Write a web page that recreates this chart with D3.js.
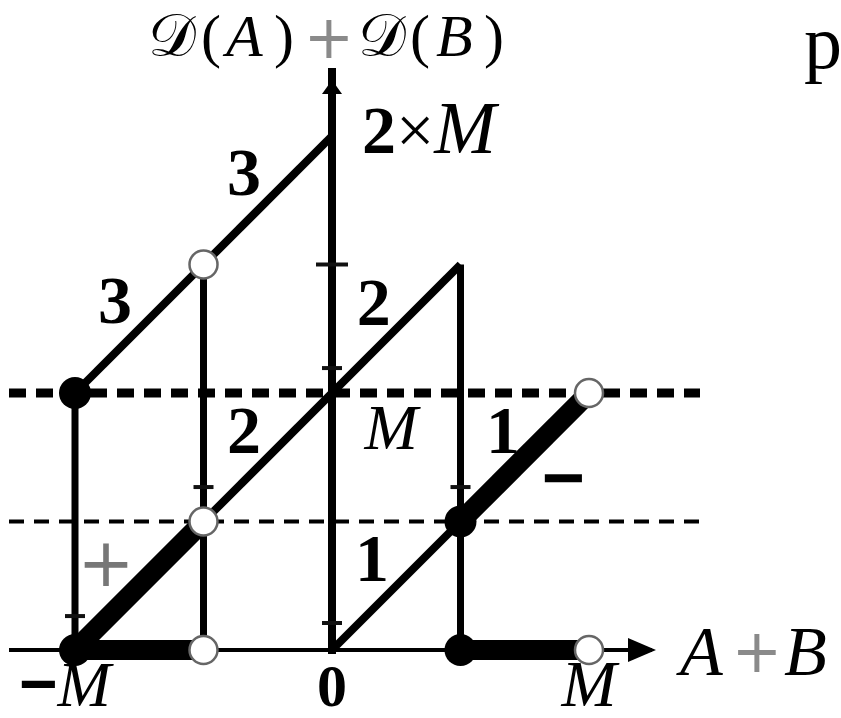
<!DOCTYPE html>
<html>
<head>
<meta charset="utf-8">
<script src="https://cdn.jsdelivr.net/npm/d3@7/dist/d3.min.js"></script>
<style>
  html, body { margin: 0; padding: 0; background: #fff; }
  svg { display: block; }
</style>
</head>
<body>
<svg id="chart" width="841" height="718"></svg>
<script>
// Values are expressed in units of M (x = A+B, y = D(A)+D(B)).
const xDomain = [-1, 1];
const yDomain = [0, 2];

// Vertical jumps of the piecewise sum
const verticals = [
  { x: -1,   y0: 0, y1: 1 },
  { x: -0.5, y0: 0, y1: 1.5 },
  { x: 0.5,  y0: 0, y1: 1.5 }
];

// Slope-one branches, thin
const thinBranches = [
  { x0: -1,   y0: 1,   x1: 0,   y1: 2 },
  { x0: -0.5, y0: 0.5, x1: 0.5, y1: 1.5 },
  { x0: 0,    y0: 0,   x1: 0.5, y1: 0.5 }
];

// Emphasised pieces (overflow regions)
const boldPieces = [
  { x0: -1,   y0: 0,   x1: -0.5, y1: 0.5 },
  { x0: 0.5,  y0: 0.5, x1: 1,    y1: 1 },
  { x0: -1,   y0: 0,   x1: -0.5, y1: 0 },
  { x0: 0.5,  y0: 0,   x1: 1,    y1: 0 }
];

// Reference levels
const levels = [
  { y: 1,   kind: "major" },
  { y: 0.5, kind: "minor" }
];

// Endpoints: closed (included) and open (excluded)
const closedPoints = [[-1, 1], [-1, 0], [0.5, 0], [0.5, 0.5]];
const openPoints   = [[-0.5, 1.5], [-0.5, 0.5], [-0.5, 0], [1, 1], [1, 0]];

// Small marks on the grid verticals
const smallMarks = [
  { x: -1,   y: 0.132, w: "s" },
  { x: -0.5, y: 0.634, w: "s" },
  { x: 0.5,  y: 0.634, w: "s" },
  { x: 0,    y: 0.105, w: "s" },
  { x: 0,    y: 1.097, w: "s" },
  { x: 0,    y: 1.5,   w: "l" }
];

// Branch labels
const branchLabels = [
  { x: -0.342, y: 1.86,  t: "3" },
  { x: -0.844, y: 1.362, t: "3" },
  { x: 0.162,  y: 1.354, t: "2" },
  { x: -0.342, y: 0.856, t: "2" },
  { x: 0.665,  y: 0.856, t: "1" },
  { x: 0.156,  y: 0.358, t: "1" }
];

const xTickValues = [-1, 0, 1];
const xTickLabels = ["\u2212M", "0", "M"];

const svg = d3.select("#chart");
const x = d3.scaleLinear().domain(xDomain).range([75, 589]);
const y = d3.scaleLinear().domain(yDomain).range([650, 136]);

const serif = "'Liberation Serif', 'Times New Roman', serif";
const sans = "'DejaVu Sans', sans-serif";

// reference levels (dashed)
svg.append("g").selectAll("line").data(levels).join("line")
  .attr("x1", 9).attr("x2", 700)
  .attr("y1", d => y(d.y)).attr("y2", d => y(d.y))
  .attr("stroke", "#000")
  .attr("stroke-width", d => d.kind === "major" ? 9 : 4)
  .attr("stroke-dasharray", d => d.kind === "major" ? "17 10" : "15 10");

// x axis
svg.append("line")
  .attr("x1", 9).attr("x2", 652)
  .attr("y1", y(0)).attr("y2", y(0))
  .attr("stroke", "#000").attr("stroke-width", 4);
svg.append("path")
  .attr("d", `M${628},${y(0) - 12}L${656},${y(0)}L${628},${y(0) + 12}Z`)
  .attr("fill", "#000");

// y axis
svg.append("line")
  .attr("x1", x(0)).attr("x2", x(0))
  .attr("y1", y(0) + 4).attr("y2", 68)
  .attr("stroke", "#000").attr("stroke-width", 8);
svg.append("path")
  .attr("d", `M${x(0) - 10},${94}L${x(0)},${80}L${x(0) + 10},${94}Z`)
  .attr("fill", "#000");

// verticals
svg.append("g").selectAll("line").data(verticals).join("line")
  .attr("x1", d => x(d.x)).attr("x2", d => x(d.x))
  .attr("y1", d => y(d.y0)).attr("y2", d => y(d.y1))
  .attr("stroke", "#000").attr("stroke-width", 7);

// thin branches
svg.append("g").selectAll("line").data(thinBranches).join("line")
  .attr("x1", d => x(d.x0)).attr("y1", d => y(d.y0))
  .attr("x2", d => x(d.x1)).attr("y2", d => y(d.y1))
  .attr("stroke", "#000").attr("stroke-width", 8);

// bold pieces
svg.append("g").selectAll("line").data(boldPieces).join("line")
  .attr("x1", d => x(d.x0)).attr("y1", d => y(d.y0))
  .attr("x2", d => x(d.x1)).attr("y2", d => y(d.y1))
  .attr("stroke", "#000").attr("stroke-width", 20);

// small marks
svg.append("g").selectAll("line").data(smallMarks).join("line")
  .attr("x1", d => x(d.x) - (d.w === "l" ? 16 : 10))
  .attr("x2", d => x(d.x) + (d.w === "l" ? 16 : 10))
  .attr("y1", d => y(d.y)).attr("y2", d => y(d.y))
  .attr("stroke", "#111").attr("stroke-width", 4);

// endpoints
svg.append("g").selectAll("circle").data(closedPoints).join("circle")
  .attr("cx", d => x(d[0])).attr("cy", d => y(d[1])).attr("r", 16)
  .attr("fill", "#000");
svg.append("g").selectAll("circle").data(openPoints).join("circle")
  .attr("cx", d => x(d[0])).attr("cy", d => y(d[1])).attr("r", 14)
  .attr("fill", "#fff").attr("stroke", "#666").attr("stroke-width", 2.5);

// branch labels
svg.append("g").selectAll("text").data(branchLabels).join("text")
  .attr("x", d => x(d.x)).attr("y", d => y(d.y))
  .attr("text-anchor", "middle").attr("dominant-baseline", "central")
  .attr("font-family", serif).attr("font-weight", "bold").attr("font-size", 68)
  .text(d => d.t);

// M on the vertical axis, sign markers
svg.append("text")
  .attr("x", x(0.23)).attr("y", y(0.864))
  .attr("text-anchor", "middle").attr("dominant-baseline", "central")
  .attr("font-family", serif).attr("font-style", "italic").attr("font-size", 64)
  .text("M");
svg.append("text")
  .attr("x", x(0.9)).attr("y", y(0.673))
  .attr("text-anchor", "middle").attr("dominant-baseline", "central")
  .attr("font-family", "'Liberation Sans', sans-serif").attr("font-weight", "bold").attr("font-size", 74)
  .text("\u2212");
svg.append("text")
  .attr("x", x(-0.879)).attr("y", y(0.342))
  .attr("text-anchor", "middle").attr("dominant-baseline", "central")
  .attr("font-family", sans).attr("font-size", 68).attr("fill", "#777")
  .text("+");

// 2×M label at the top of the axis
const topLab = svg.append("text")
  .attr("x", 362).attr("y", 153)
  .attr("font-family", serif).attr("font-size", 68);
topLab.append("tspan").attr("font-weight", "bold").text("2");
topLab.append("tspan").text("\u00d7");
topLab.append("tspan").attr("font-style", "italic").attr("font-size", 74).text("M");

// x tick labels
const tickG = svg.append("g");
xTickValues.forEach((v, i) => {
  const lab = xTickLabels[i];
  const t = tickG.append("text")
    .attr("x", x(v) + (v < 0 ? -10 : 0)).attr("y", 706)
    .attr("text-anchor", "middle")
    .attr("font-family", serif).attr("font-size", 60);
  if (lab === "0") {
    t.attr("font-weight", "bold").text(lab);
  } else if (lab.startsWith("\u2212")) {
    t.append("tspan").attr("font-family", "'Liberation Sans', sans-serif").attr("font-weight", "bold").attr("font-size", 66).text("\u2212");
    t.append("tspan").attr("font-style", "italic").attr("font-size", 64).text("M");
  } else {
    t.attr("font-style", "italic").attr("font-size", 66).text(lab);
  }
});

// horizontal axis title
const xTitle = svg.append("g").attr("font-family", serif).attr("font-size", 70);
xTitle.append("text").attr("x", 680).attr("y", 675).attr("font-style", "italic").text("A");
xTitle.append("text").attr("x", 757).attr("y", 651)
  .attr("text-anchor", "middle").attr("dominant-baseline", "central")
  .attr("font-family", sans).attr("font-size", 60).attr("fill", "#8a8a8a").text("+");
xTitle.append("text").attr("x", 784).attr("y", 675).attr("font-style", "italic").text("B");

// vertical axis title
const yTitle = svg.append("g").attr("font-family", serif).attr("font-size", 60);
const yParts = [
  { t: "\ud835\udc9f", x: 148 }, { t: "(", x: 201 }, { t: "A", x: 226, it: true }, { t: ")", x: 274 },
  { t: "\ud835\udc9f", x: 358 }, { t: "(", x: 410 }, { t: "B", x: 436, it: true }, { t: ")", x: 484 }
];
yParts.forEach(p => {
  yTitle.append("text").attr("x", p.x).attr("y", 56)
    .attr("font-style", p.it ? "italic" : "normal").text(p.t);
});
yTitle.append("text").attr("x", 329).attr("y", 37)
  .attr("text-anchor", "middle").attr("dominant-baseline", "central")
  .attr("font-family", sans).attr("font-size", 60).attr("fill", "#8a8a8a").text("+");

// corner letter
svg.append("text")
  .attr("x", 804).attr("y", 68)
  .attr("font-family", serif).attr("font-size", 76)
  .text("p");
</script>
</body>
</html>
